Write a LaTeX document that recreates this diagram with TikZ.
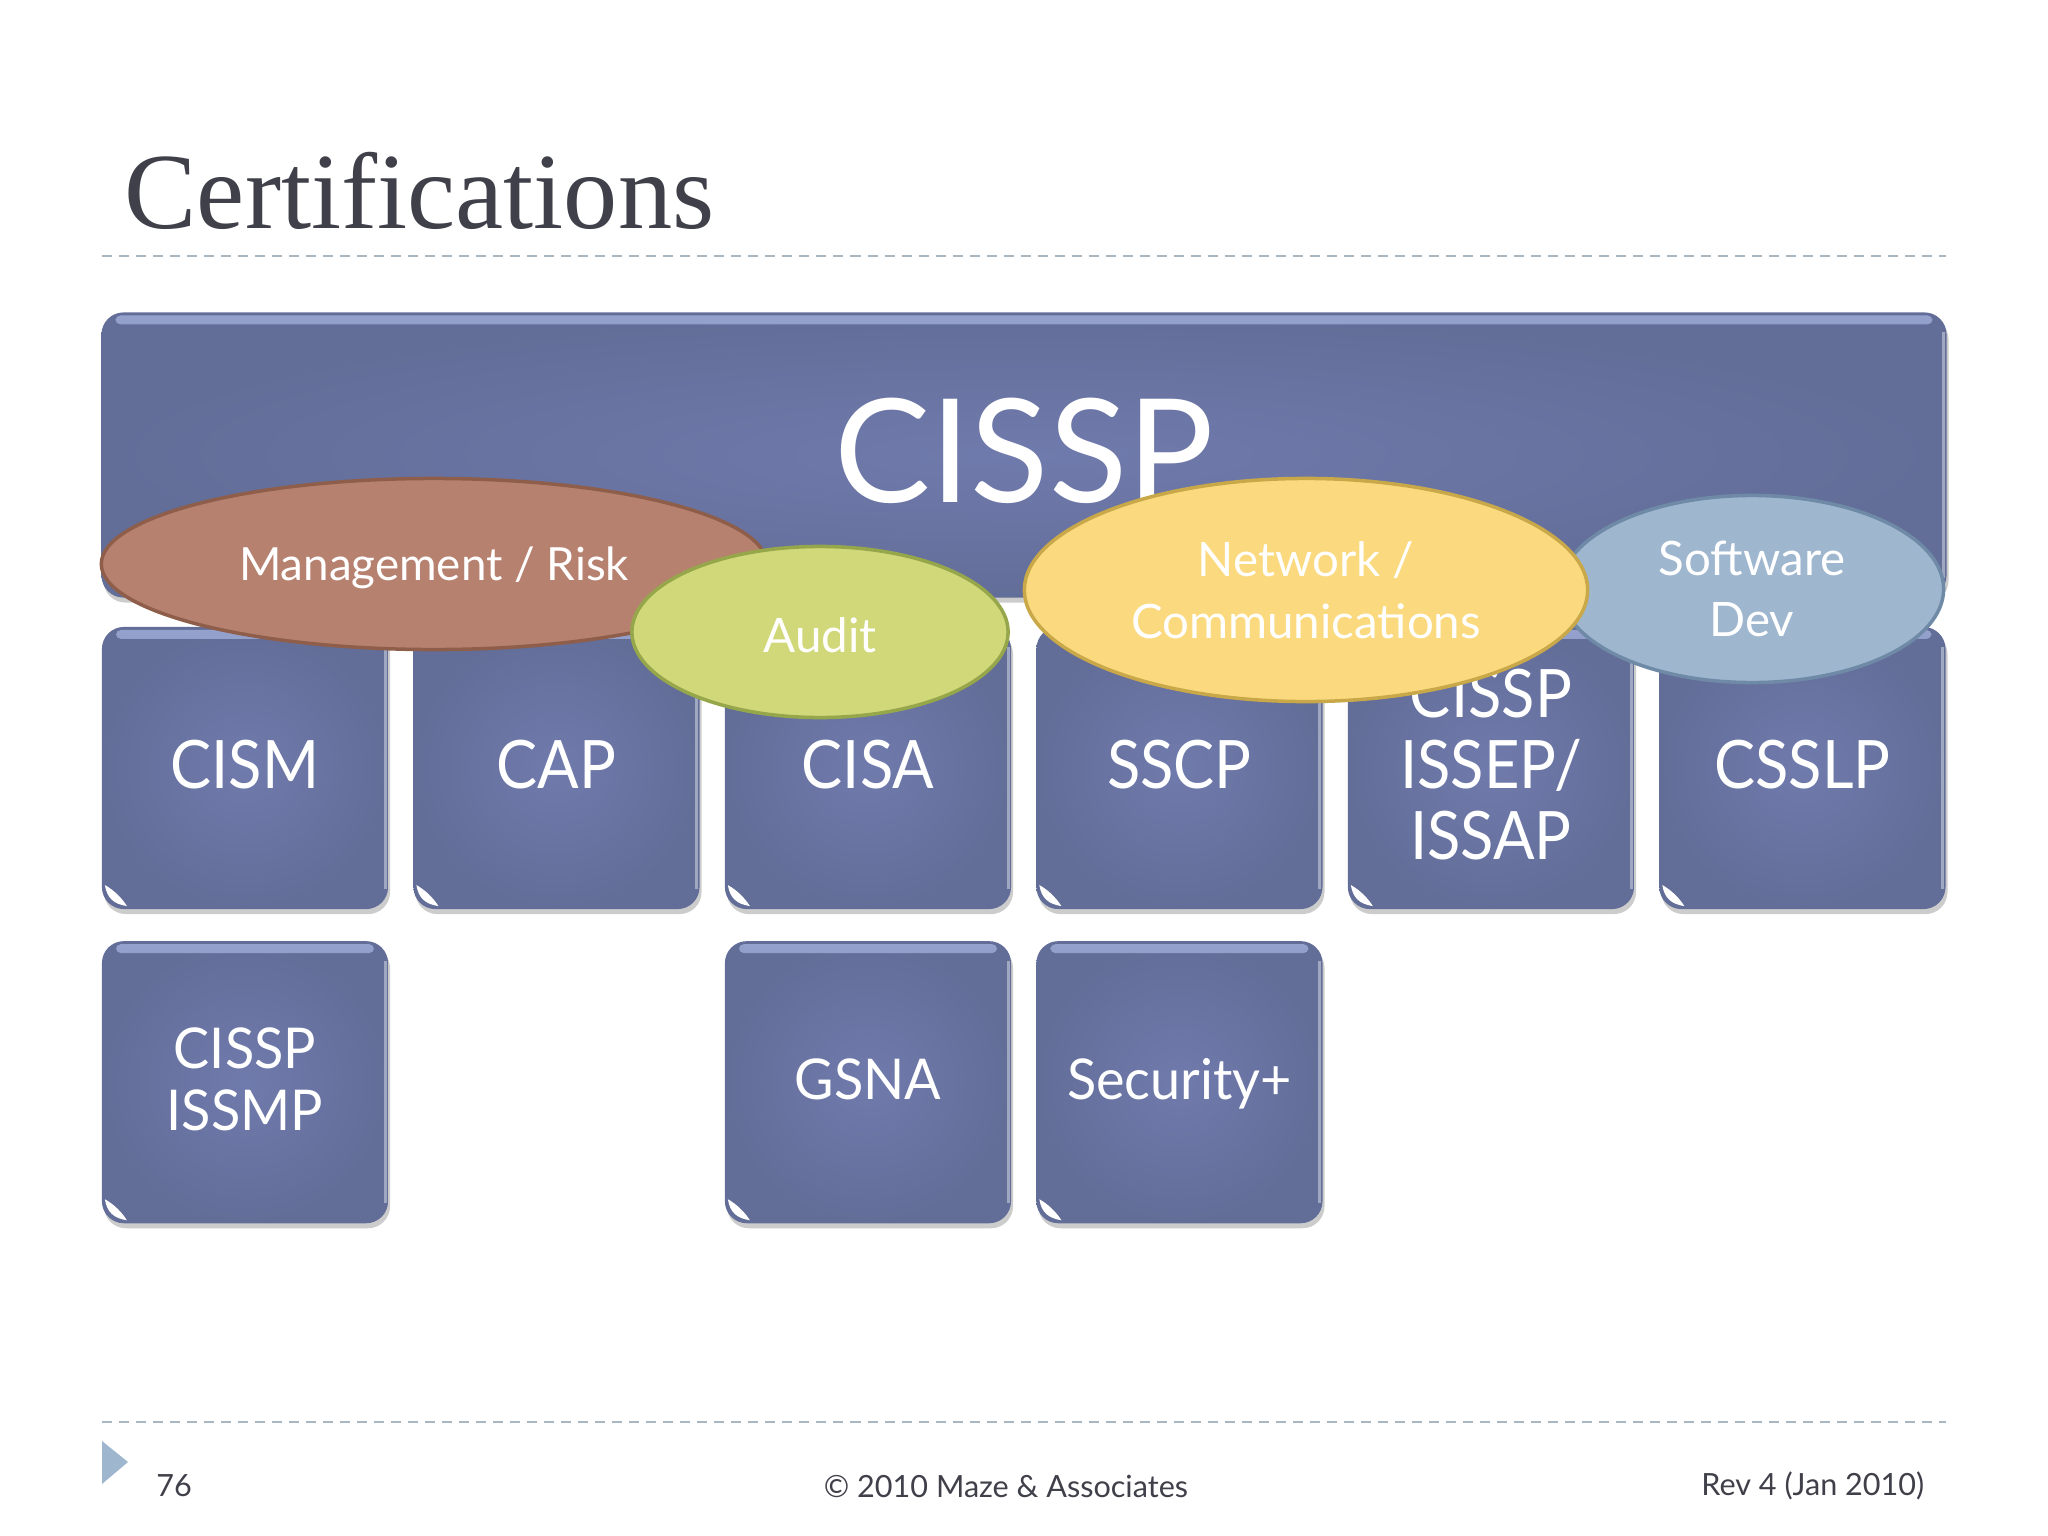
\documentclass[tikz,border=0pt]{standalone}
\usepackage{fontspec}
\setmainfont{Lato}
\newfontfamily\titlefont{Liberation Serif}
\newfontfamily\narrowfont[FakeStretch=0.92]{Lato}
\newfontfamily\midfont[FakeStretch=0.96]{Lato}
\usetikzlibrary{positioning,shapes.geometric,shadows}

\definecolor{boxmid}{HTML}{707BAD}
\definecolor{boxedge}{HTML}{626D98}
\definecolor{boxtop}{HTML}{A6B4E0}
\definecolor{inkgray}{HTML}{40404A}
\definecolor{rulegray}{HTML}{A9B7C2}
\definecolor{mgmtfill}{HTML}{B78170}
\definecolor{mgmtline}{HTML}{8F5E4A}
\definecolor{auditfill}{HTML}{D1D87A}
\definecolor{auditline}{HTML}{96A64A}
\definecolor{netfill}{HTML}{FBD97E}
\definecolor{netline}{HTML}{C9A84A}
\definecolor{softfill}{HTML}{9FB6CF}
\definecolor{softline}{HTML}{6F8AA6}

\newcommand{\sheen}{
  \shade[rounded corners=0.05cm, top color=boxtop, bottom color=boxedge, opacity=0.75]
    ([xshift=0.14cm,yshift=-0.03cm]path picture bounding box.north west) rectangle
    ([xshift=-0.14cm,yshift=-0.12cm]path picture bounding box.north east);
  \draw[sharp corners, white, opacity=0.4, line width=0.03cm]
    ([xshift=-0.03cm,yshift=-0.2cm]path picture bounding box.north east) --
    ([xshift=-0.03cm,yshift=0.2cm]path picture bounding box.south east);
}
\newcommand{\swpt}[2]{([xshift=#1cm,yshift=#2cm]path picture bounding box.south west)}

\tikzset{
  cert/.style={rectangle, rounded corners=0.22cm, inner color=boxmid, outer color=boxedge,
    text=white, align=center, inner sep=0pt,
    drop shadow={shadow xshift=0.02cm, shadow yshift=-0.05cm, opacity=0.4}},
  small/.style={cert, minimum width=2.86cm, minimum height=2.82cm, path picture={
      \sheen
      \fill[sharp corners, white] \swpt{0.03}{0.24} .. controls \swpt{0.05}{0.11} and \swpt{0.12}{0.05} .. \swpt{0.25}{0.03}
        .. controls \swpt{0.2}{0.11} and \swpt{0.12}{0.19} .. cycle;
    }},
  upper/.style={small, text depth=0.08cm, font=\narrowfont\fontsize{19}{20.2}\selectfont},
  lower/.style={small, text depth=0.06cm, font=\midfont\fontsize{16}{17.5}\selectfont},
  blob/.style={ellipse, inner sep=0pt, text=white, align=center, line width=0.035cm,
    font=\fontsize{13.5}{17.5}\selectfont},
  footer/.style={text=inkgray, inner sep=0pt, font=\fontsize{8.7}{10}\selectfont},
  dashrule/.style={rulegray, line width=0.015cm, dash pattern=on 0.1cm off 0.07cm}
}

\begin{document}
\begin{tikzpicture}[x=0.01cm, y=-0.01cm, node distance=3.113cm]
\useasboundingbox (0,0) rectangle (2048,1536);

\node [anchor=west, text=inkgray, inner sep=0pt, font=\titlefont\fontsize{30.8}{31}\selectfont] (title) at (124,191) {Certifications};
\coordinate (topa) at (102,256);
\coordinate (topb) at (1946,256);
\coordinate (lowa) at (102,1422);
\coordinate (lowb) at (1946,1422);
\draw [dashrule] (topa) -- (topb);
\draw [dashrule] (lowa) -- (lowb);

\node [cert, path picture={\sheen}, minimum width=18.44cm, minimum height=2.85cm, text depth=0.1cm, font=\fontsize{41}{41}\selectfont] (cissp) at (1024,455) {CISSP};

\node [upper] (cism) at (245,768) {CISM};
\node [upper] (cap) [right of=cism] {CAP};
\node [upper] (cisa) [right of=cap] {CISA};
\node [upper] (sscp) [right of=cisa] {SSCP};
\node [upper] (issep) [right of=sscp] {CISSP\\ISSEP/\\ISSAP};
\node [upper] (csslp) [right of=issep] {CSSLP};

\node [lower] (issmp) [below of=cism, node distance=3.14cm] {CISSP\\ISSMP};
\node [lower] (gsna) [below of=cisa, node distance=3.14cm] {GSNA};
\node [lower] (secplus) [below of=sscp, node distance=3.14cm] {Security+};

\node [blob, fill=mgmtfill, draw=mgmtline, minimum width=6.65cm, minimum height=1.71cm, text depth=0pt, font=\fontsize{13}{17.5}\selectfont] (mgmt) at (434,564) {Management / Risk};
\node [blob, fill=softfill, draw=softline, minimum width=3.83cm, minimum height=1.87cm] (soft) at (1752,589) {Software\\Dev};
\node [blob, fill=netfill, draw=netline, minimum width=5.63cm, minimum height=2.23cm] (net) at (1306,590) {Network /\\Communications};
\node [blob, fill=auditfill, draw=auditline, minimum width=3.76cm, minimum height=1.71cm, text height=0.42cm] (audit) at (820,632) {Audit};

\fill [softfill] (102,1441) -- (128,1462) -- (102,1484) -- cycle;
\node [footer] (page) at (174,1486) {76};
\node [footer] (copy) at (1006,1486) {© 2010 Maze \& Associates};
\node [footer, anchor=east] (rev) at (1925,1486) {Rev 4 (Jan 2010)};
\end{tikzpicture}
\end{document}
